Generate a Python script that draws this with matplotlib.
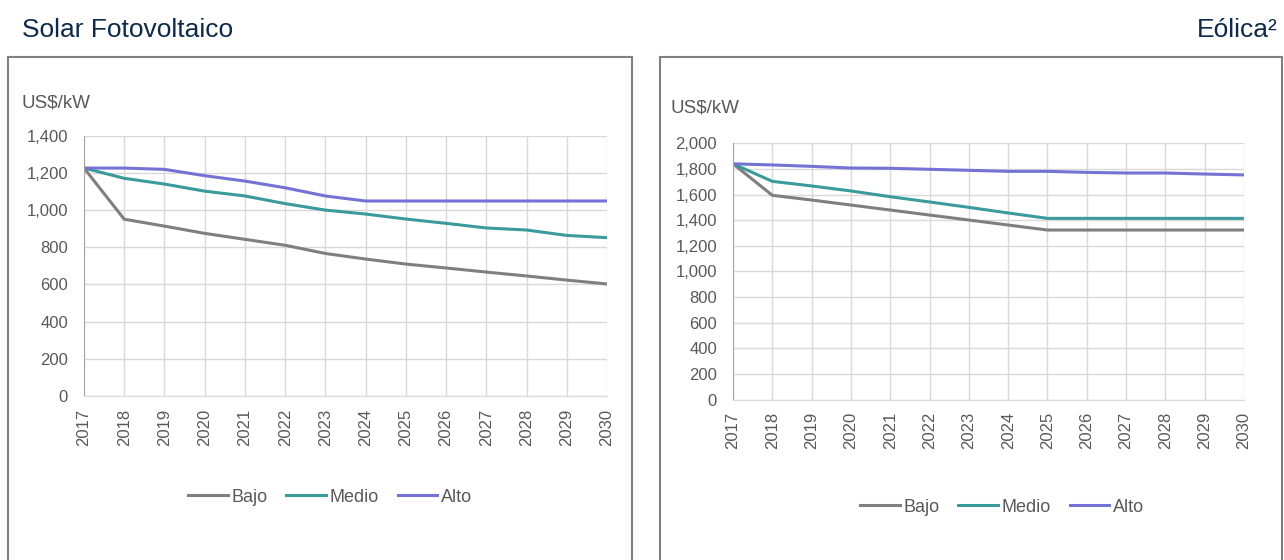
import matplotlib.pyplot as plt
from matplotlib.patches import Rectangle
from matplotlib.ticker import FuncFormatter

years = list(range(2017, 2031))

solar_bajo = [1225, 950, 913, 874, 842, 810, 766, 736, 709, 688, 666, 645, 623, 602]
solar_medio = [1225, 1170, 1139, 1101, 1075, 1034, 999, 978, 951, 928, 903, 892, 863, 851]
solar_alto = [1225, 1225, 1218, 1184, 1155, 1119, 1075, 1048, 1048, 1048, 1048, 1048, 1048, 1048]

eolica_bajo = [1840, 1594, 1557, 1518, 1479, 1440, 1401, 1362, 1323, 1323, 1323, 1323, 1323, 1323]
eolica_medio = [1840, 1703, 1667, 1628, 1583, 1542, 1500, 1456, 1414, 1414, 1414, 1414, 1414, 1414]
eolica_alto = [1840, 1831, 1820, 1807, 1805, 1797, 1789, 1781, 1781, 1773, 1768, 1768, 1760, 1753]

series_names = ["Bajo", "Medio", "Alto"]
colors = ["#7f7f7f", "#3a9a9c", "#7472d4"]
text_col = "#595959"
title_col = "#0d2a4a"

plt.rcParams['font.family'] = ['Liberation Sans', 'DejaVu Sans']

W, H = 1284, 560
fig = plt.figure(figsize=(W / 100, H / 100), dpi=100)

# panel frames
for x0, x1 in [(8, 632), (660, 1282)]:
    fig.patches.append(Rectangle((x0 / W, -0.05), (x1 - x0) / W, 1.05 - 57 / H,
                                 transform=fig.transFigure, fill=False,
                                 edgecolor="#808080", lw=1.5))

fig.text(22 / W, 1 - 30 / H, "Solar Fotovoltaico", fontsize=19, color=title_col,
         ha="left", va="center")
fig.text(1278 / W, 1 - 30 / H, "Eólica²", fontsize=19, color=title_col,
         ha="right", va="center")


def draw_panel(px, data, ymax, unit_xy, leg_xy):
    left, right, top, bottom = px
    ax = fig.add_axes([left / W, 1 - bottom / H, (right - left) / W, (bottom - top) / H])
    for vals, name, c in zip(data, series_names, colors):
        ax.plot(years, vals, color=c, lw=2.2, label=name)
    ax.set_xlim(years[0], years[-1])
    ax.set_ylim(0, ymax)
    ax.set_yticks(range(0, ymax + 1, 200))
    ax.yaxis.set_major_formatter(FuncFormatter(lambda v, p: f"{int(v):,}"))
    ax.set_xticks(years)
    ax.set_xticklabels([str(y) for y in years], rotation=90)
    ax.grid(True, color="#d9d9d9", lw=1)
    ax.set_axisbelow(True)
    for s in ["top", "right"]:
        ax.spines[s].set_visible(False)
    ax.spines["left"].set_color("#a6a6a6")
    ax.spines["bottom"].set_color("#d9d9d9")
    ax.tick_params(length=0, labelsize=12, labelcolor=text_col)
    ax.tick_params(axis="y", pad=11.5)
    ax.tick_params(axis="x", pad=9)
    fig.text(unit_xy[0] / W, 1 - unit_xy[1] / H, "US$/kW", fontsize=13.5,
             color=text_col, ha="left", va="center")
    fig.legend(*ax.get_legend_handles_labels(), loc="center", ncol=3,
               bbox_to_anchor=(leg_xy[0] / W, 1 - leg_xy[1] / H), frameon=False,
               fontsize=13, labelcolor=text_col, handlelength=2.2,
               handletextpad=0.2, columnspacing=1.05)
    return ax


draw_panel((84, 607, 135.5, 396), [solar_bajo, solar_medio, solar_alto],
           1400, (22, 103), (330, 497))
draw_panel((733, 1244, 143.3, 399.5), [eolica_bajo, eolica_medio, eolica_alto],
           2000, (670, 108), (1002, 507))

fig.savefig("out.png", dpi=100)
